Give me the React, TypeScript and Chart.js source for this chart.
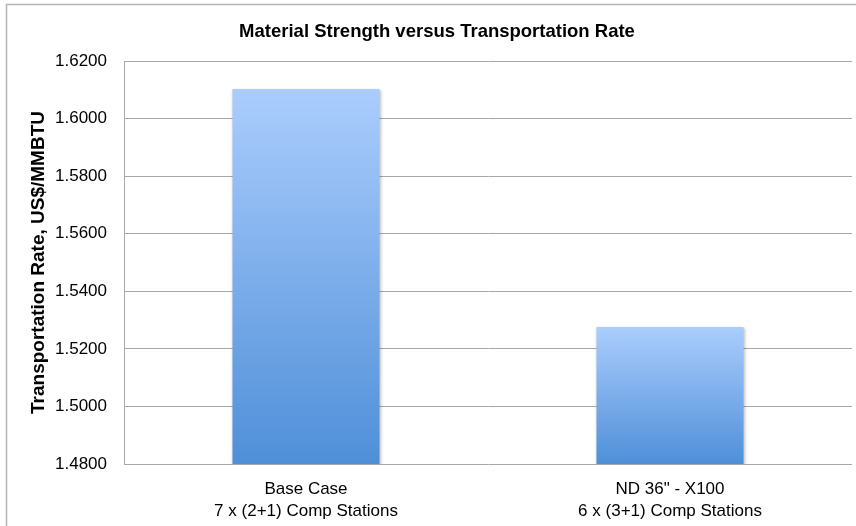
import React, { useEffect, useRef } from "react";
import { Chart, registerables } from "chart.js";

Chart.register(...registerables);

const chartTitle = "Material Strength versus Transportation Rate";
const yAxisTitle = "Transportation Rate, US$/MMBTU";
const categories: string[][] = [
  ["Base Case", "7 x (2+1) Comp Stations"],
  ['ND 36" - X100', "6 x (3+1) Comp Stations"],
];
const rates: number[] = [1.6103, 1.5276];
const yMin = 1.48;
const yMax = 1.62;
const yStep = 0.02;

const FONT = "'Liberation Sans', Arial, sans-serif";

export default function App() {
  const ref = useRef<HTMLCanvasElement | null>(null);

  useEffect(() => {
    if (!ref.current) return;

    const framePlugin = {
      id: "frame",
      beforeDraw(chart: any) {
        const ctx = chart.ctx;
        ctx.save();
        ctx.fillStyle = "#ffffff";
        ctx.fillRect(0, 0, chart.width, chart.height);
        ctx.strokeStyle = "#b4b4b4";
        ctx.lineWidth = 1.5;
        ctx.strokeRect(6.5, 4.5, chart.width + 20, chart.height + 20);
        ctx.restore();
      },
    };

    const shadowPlugin = {
      id: "barShadow",
      beforeDatasetsDraw(chart: any) {
        const ctx = chart.ctx;
        ctx.save();
        ctx.shadowColor = "rgba(0,0,0,0.28)";
        ctx.shadowBlur = 3;
        ctx.shadowOffsetX = 1;
        ctx.shadowOffsetY = 1;
      },
      afterDatasetsDraw(chart: any) {
        chart.ctx.restore();
      },
    };

    const chart = new Chart(ref.current, {
      type: "bar",
      data: {
        labels: categories,
        datasets: [
          {
            data: rates,
            borderWidth: 0,
            categoryPercentage: 1,
            barPercentage: 0.404,
            backgroundColor: (c: any) => {
              const ch = c.chart;
              const ys = ch.scales && ch.scales.y;
              if (!ys || !ch.chartArea || c.parsed == null) return "#7fb0ec";
              const top = ys.getPixelForValue(c.parsed.y);
              const bottom = ys.getPixelForValue(yMin);
              if (!isFinite(top) || !isFinite(bottom) || top === bottom) return "#7fb0ec";
              const g = ch.ctx.createLinearGradient(0, top, 0, bottom);
              g.addColorStop(0, "#abcdfd");
              g.addColorStop(1, "#4f8fd8");
              return g;
            },
          },
        ],
      },
      options: {
        responsive: false,
        animation: false,
        devicePixelRatio: 1,
        layout: { padding: { left: 22, right: 22, top: 0, bottom: 0 } },
        plugins: {
          legend: { display: false },
          tooltip: { enabled: false },
          title: {
            display: true,
            text: chartTitle,
            color: "#000000",
            font: { family: FONT, size: 18.5, weight: "bold", lineHeight: 1.2 },
            padding: { top: 20.4, bottom: 18.4 },
          },
        },
        scales: {
          x: {
            grid: { display: false, drawTicks: false },
            border: { display: false },
            ticks: {
              color: "#000000",
              padding: 15,
              font: { family: FONT, size: 17, lineHeight: 1.27 },
              maxRotation: 0,
              autoSkip: false,
            },
            afterFit(scale: any) {
              scale.height = 62;
            },
          },
          y: {
            min: yMin,
            max: yMax,
            grid: { color: "#a8a8a8", lineWidth: 1, drawTicks: false },
            border: { display: true, color: "#a8a8a8", width: 1 },
            ticks: {
              stepSize: yStep,
              color: "#000000",
              padding: 17,
              font: { family: FONT, size: 17 },
              callback: (v: any) => Number(v).toFixed(4),
            },
            title: {
              display: true,
              text: yAxisTitle,
              color: "#000000",
              font: { family: FONT, size: 19, weight: "bold", lineHeight: 1.2 },
              padding: { top: 5, bottom: 0 },
            },
            afterFit(scale: any) {
              scale.width = 102;
            },
          },
        },
      },
      plugins: [framePlugin, shadowPlugin],
    } as any);

    return () => chart.destroy();
  }, []);

  return (
    <div
      style={{
        position: "fixed",
        left: 0,
        top: 0,
        width: 856,
        height: 526,
        overflow: "hidden",
        background: "#ffffff",
      }}
    >
      <canvas ref={ref} width={874} height={526} style={{ display: "block" }} />
    </div>
  );
}
